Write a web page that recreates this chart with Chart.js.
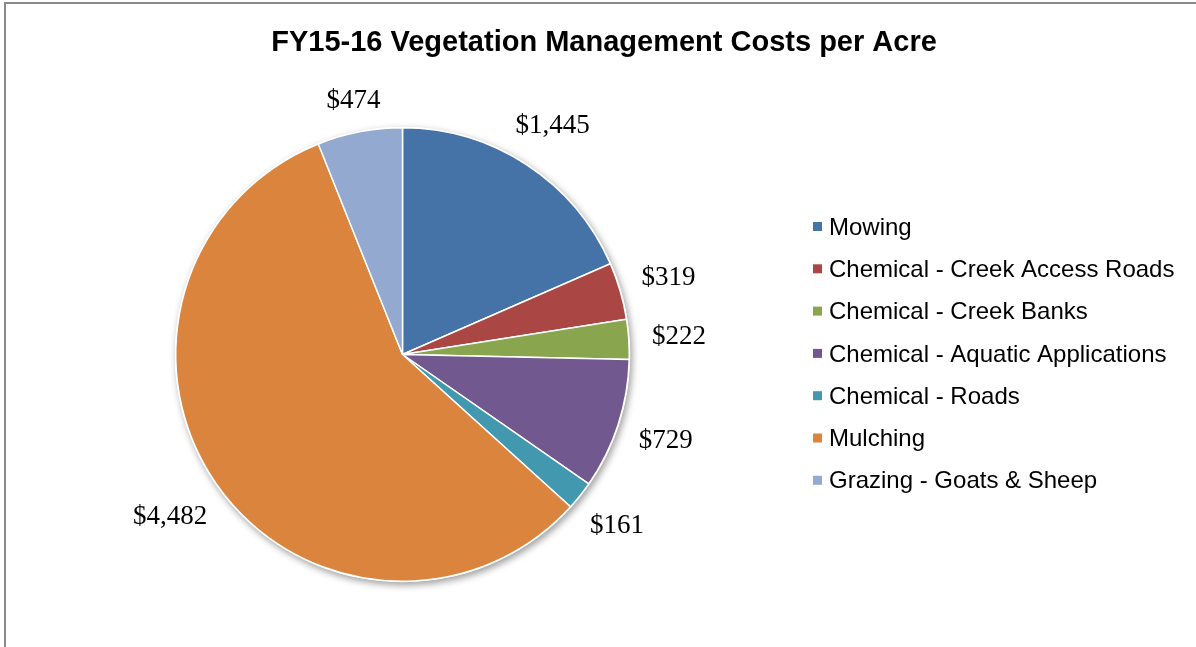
<!DOCTYPE html>
<html>
<head>
<meta charset="utf-8">
<script src="https://cdn.jsdelivr.net/npm/chart.js@4"></script>
<style>
  html, body { margin: 0; padding: 0; background: #fff; }
  #wrap { position: relative; width: 1196px; height: 647px; }
</style>
</head>
<body>
<div id="wrap"><canvas id="c" width="1196" height="647"></canvas></div>
<script>
const TITLE = 'FY15-16 Vegetation Management Costs per Acre';
const categories = [
  'Mowing',
  'Chemical - Creek Access Roads',
  'Chemical - Creek Banks',
  'Chemical - Aquatic Applications',
  'Chemical - Roads',
  'Mulching',
  'Grazing - Goats & Sheep'
];
const costs = [1445, 319, 222, 729, 161, 4482, 474];
const colors = ['#4572A7', '#AA4643', '#89A54E', '#71588F', '#4198AF', '#DB843D', '#93A9CF'];

function fmt(v) { return '$' + v.toLocaleString('en-US'); }

const framePlugin = {
  id: 'frame',
  beforeDraw(chart) {
    const ctx = chart.ctx;
    ctx.save();
    ctx.fillStyle = '#fff';
    ctx.fillRect(0, 0, chart.width, chart.height);
    ctx.strokeStyle = '#8a8a8a';
    ctx.lineWidth = 2;
    ctx.beginPath();
    ctx.moveTo(5, chart.height + 2);
    ctx.lineTo(5, 3);
    ctx.lineTo(chart.width + 2, 3);
    ctx.stroke();
    // title
    ctx.fillStyle = '#000';
    ctx.font = 'bold 29px "Liberation Sans", Arial, sans-serif';
    ctx.textAlign = 'center';
    ctx.textBaseline = 'alphabetic';
    ctx.fillText(TITLE, 604, 51);
    ctx.restore();
  },
  beforeDatasetsDraw(chart) {
    const arc = chart.getDatasetMeta(0).data[0];
    if (!arc) return;
    const ctx = chart.ctx;
    ctx.save();
    ctx.shadowColor = 'rgba(0,0,0,0.38)';
    ctx.shadowBlur = 7;
    ctx.shadowOffsetX = 2;
    ctx.shadowOffsetY = 3;
    ctx.fillStyle = '#fff';
    ctx.beginPath();
    ctx.arc(arc.x, arc.y, arc.outerRadius + 1, 0, Math.PI * 2);
    ctx.fill();
    ctx.restore();
  },
  afterDatasetsDraw(chart) {
    const ctx = chart.ctx;
    const meta = chart.getDatasetMeta(0);
    const vals = chart.data.datasets[0].data;
    ctx.save();
    ctx.font = '27px "Liberation Serif", "DejaVu Serif", serif';
    ctx.fillStyle = '#000';
    ctx.textAlign = 'center';
    ctx.textBaseline = 'middle';
    meta.data.forEach((a, i) => {
      const mid = (a.startAngle + a.endAngle) / 2;
      const ux = Math.cos(mid), uy = Math.sin(mid);
      const txt = fmt(vals[i]);
      const w = ctx.measureText(txt).width;
      const h = 10;
      const d = a.outerRadius + 23 + Math.abs(ux) * w / 2 + Math.abs(uy) * h / 2;
      ctx.fillText(txt, a.x + d * ux, a.y + d * uy + 1);
    });
    // legend
    ctx.font = '24px "Liberation Sans", Arial, sans-serif';
    ctx.textAlign = 'left';
    const lx = 813, ly = 227, step = 42.3;
    chart.data.labels.forEach((lab, i) => {
      const y = ly + i * step;
      ctx.fillStyle = chart.data.datasets[0].backgroundColor[i];
      ctx.fillRect(lx, y - 5, 9, 9);
      ctx.fillStyle = '#000';
      ctx.fillText(lab, lx + 16, y + 1);
    });
    ctx.restore();
  }
};

new Chart(document.getElementById('c'), {
  type: 'pie',
  data: {
    labels: categories,
    datasets: [{
      data: costs,
      backgroundColor: colors,
      borderColor: '#fff',
      borderWidth: 1.5,
      hoverOffset: 0,
      offset: 0
    }]
  },
  options: {
    responsive: false,
    animation: false,
    events: [],
    layout: { padding: { left: 175, right: 566, top: 127, bottom: 65 } },
    plugins: {
      legend: { display: false },
      title: { display: false },
      tooltip: { enabled: false }
    }
  },
  plugins: [framePlugin]
});
</script>
</body>
</html>
